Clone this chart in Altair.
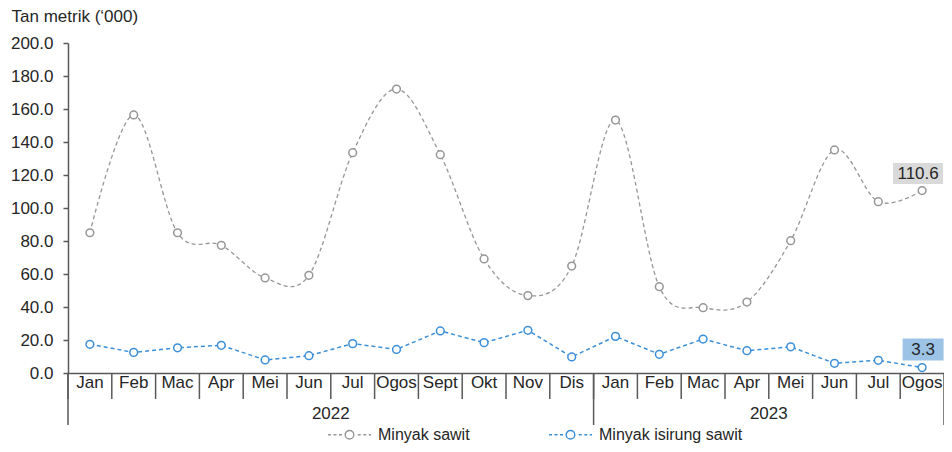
import altair as alt
import pandas as pd

# ---- data ----
months_2022 = ["Jan", "Feb", "Mac", "Apr", "Mei", "Jun", "Jul", "Ogos", "Sept", "Okt", "Nov", "Dis"]
months_2023 = ["Jan", "Feb", "Mac", "Apr", "Mei", "Jun", "Jul", "Ogos"]
years = ["2022", "2023"]
series_names = ["Minyak sawit", "Minyak isirung sawit"]
minyak_sawit = [85.0, 156.4, 85.0, 77.4, 57.6, 59.2, 133.5, 172.1, 132.3, 69.1, 46.9, 64.8,
                153.3, 52.3, 39.6, 43.0, 80.2, 135.2, 103.8, 110.6]
minyak_isirung_sawit = [17.4, 12.5, 15.3, 16.8, 7.9, 10.5, 17.8, 14.3, 25.5, 18.4, 25.9, 9.7,
                        22.2, 11.3, 20.6, 13.5, 15.9, 5.9, 7.7, 3.3]
y_ticks = [0, 20, 40, 60, 80, 100, 120, 140, 160, 180, 200]

keys = [f"{m} {years[0]}" for m in months_2022] + [f"{m} {years[1]}" for m in months_2023]
n = len(keys)

df = pd.DataFrame({
    "key": keys * 2,
    "series": [series_names[0]] * n + [series_names[1]] * n,
    "value": minyak_sawit + minyak_isirung_sawit,
})
df_sawit = df[df["series"] == series_names[0]]
df_isirung = df[df["series"] == series_names[1]]

year_df = pd.DataFrame({
    "key": [keys[len(months_2022) // 2], keys[len(months_2022) + len(months_2023) // 2]],
    "year": years,
})
tick_df = pd.DataFrame({"key": keys})
start_df = pd.DataFrame({"key": [keys[0], keys[len(months_2022)]]})
end_df = pd.DataFrame({"key": [keys[-1]]})
lab_sawit = pd.DataFrame({"key": [keys[-1]], "value": [minyak_sawit[-1]]})
lab_isirung = pd.DataFrame({"key": [keys[-1]], "value": [minyak_isirung_sawit[-1]]})

# ---- styling ----
W, H = 876, 330
GRAY = "#969696"
BLUE = "#3b8fd8"
AXIS = "#595959"
TXT = "#262626"
FS = 17

x_scale = alt.Scale(type="band", domain=keys, paddingInner=0, paddingOuter=0)
y_scale = alt.Scale(domain=[0, 200], nice=False)

x_axis = alt.Axis(
    title=None, labelExpr="split(datum.label, ' ')[0]", labelAngle=0, labelAlign="center",
    ticks=False, domainColor=AXIS, domainWidth=1.5, labelPadding=9, labelFontSize=FS,
    labelColor=TXT, labelOverlap=False, grid=False,
)
y_axis = alt.Axis(
    values=y_ticks, format=".1f", tickSize=5, tickColor=AXIS, tickWidth=1.5,
    domainColor=AXIS, domainWidth=1.5, labelPadding=10, labelFontSize=FS,
    labelColor=TXT, grid=False,
    title="Tan metrik (‘000)", titleAngle=0, titleAlign="left", titleBaseline="alphabetic",
    titleX=-57, titleY=-22, titleFontSize=FS, titleFontWeight="normal", titleColor=TXT,
)

sym_path = "M-1,0H-0.2A0.2,0.2,0,1,1,0.2,0A0.2,0.2,0,1,1,-0.2,0H0.2H1"
legend = alt.Legend(
    orient="none", legendX=259, legendY=369, direction="horizontal", title=None,
    symbolType=sym_path, symbolSize=1849, symbolStrokeWidth=1.4,
    symbolDash=[3, 2.5, 3, 2.5, 3, 3.2, 27.1, 11.8, 3, 2.5, 3, 2.5, 3, 60],
    symbolFillColor="white", labelFontSize=16, labelColor=TXT, labelOffset=6,
    columnPadding=76, padding=0, labelLimit=300,
)
stroke_enc = alt.Stroke("series:N", scale=alt.Scale(domain=series_names, range=[GRAY, BLUE]),
                        legend=legend)

X = alt.X("key:O", scale=x_scale, axis=x_axis, sort=keys)
Y = alt.Y("value:Q", scale=y_scale, axis=y_axis)

line_sawit = alt.Chart(df_sawit).mark_line(
    interpolate="cardinal", strokeDash=[4, 3], strokeWidth=1.3
).encode(x=X, y=Y, stroke=stroke_enc)
line_isirung = alt.Chart(df_isirung).mark_line(
    strokeDash=[4, 3], strokeWidth=1.5
).encode(x=X, y=Y, stroke=stroke_enc)
points = alt.Chart(df).mark_point(
    shape="circle", filled=False, fill="white", fillOpacity=1, size=60, strokeWidth=1.5, opacity=1
).encode(x=X, y=Y, stroke=stroke_enc)

month_ticks = alt.Chart(tick_df).mark_rule(color=AXIS, strokeWidth=1.5).encode(
    x=alt.X("key:O", scale=x_scale, sort=keys, bandPosition=0),
    y=alt.value(H), y2=alt.value(H + 26),
)
rule_start = alt.Chart(start_df).mark_rule(color=AXIS, strokeWidth=1.5).encode(
    x=alt.X("key:O", scale=x_scale, sort=keys, bandPosition=0),
    y=alt.value(H), y2=alt.value(H + 52),
)
rule_end = alt.Chart(end_df).mark_rule(color=AXIS, strokeWidth=1.5).encode(
    x=alt.X("key:O", scale=x_scale, sort=keys, bandPosition=1),
    y=alt.value(H), y2=alt.value(H + 52),
)
year_text = alt.Chart(year_df).mark_text(fontSize=FS, color=TXT, baseline="middle").encode(
    x=alt.X("key:O", scale=x_scale, sort=keys, bandPosition=0),
    y=alt.value(H + 41), text="year:N",
)

box_sawit = alt.Chart(lab_sawit).mark_rect(
    width=50, height=21, yOffset=-17, xOffset=-4, color="#d9d9d9"
).encode(x=X, y=Y)
txt_sawit = alt.Chart(lab_sawit).mark_text(
    fontSize=FS, color=TXT, baseline="middle", yOffset=-17, xOffset=-4
).encode(x=X, y=Y, text=alt.Text("value:Q", format=".1f"))
box_isirung = alt.Chart(lab_isirung).mark_rect(
    width=41, height=22, yOffset=-18, xOffset=1, color="#9dc3e6"
).encode(x=X, y=Y)
txt_isirung = alt.Chart(lab_isirung).mark_text(
    fontSize=FS, color=TXT, baseline="middle", yOffset=-18, xOffset=1
).encode(x=X, y=Y, text=alt.Text("value:Q", format=".1f"))

chart = alt.layer(
    month_ticks, rule_start, rule_end, year_text, line_sawit, line_isirung, points,
    box_sawit, txt_sawit, box_isirung, txt_isirung,
).properties(
    width=W, height=H,
    autosize=alt.AutoSizeParams(type="none"),
    padding={"left": 60, "top": 35, "right": 0, "bottom": 71},
).configure(font="Liberation Sans").configure_view(strokeWidth=0)

chart.save("out.html", embed_options={"renderer": "svg", "actions": False})
